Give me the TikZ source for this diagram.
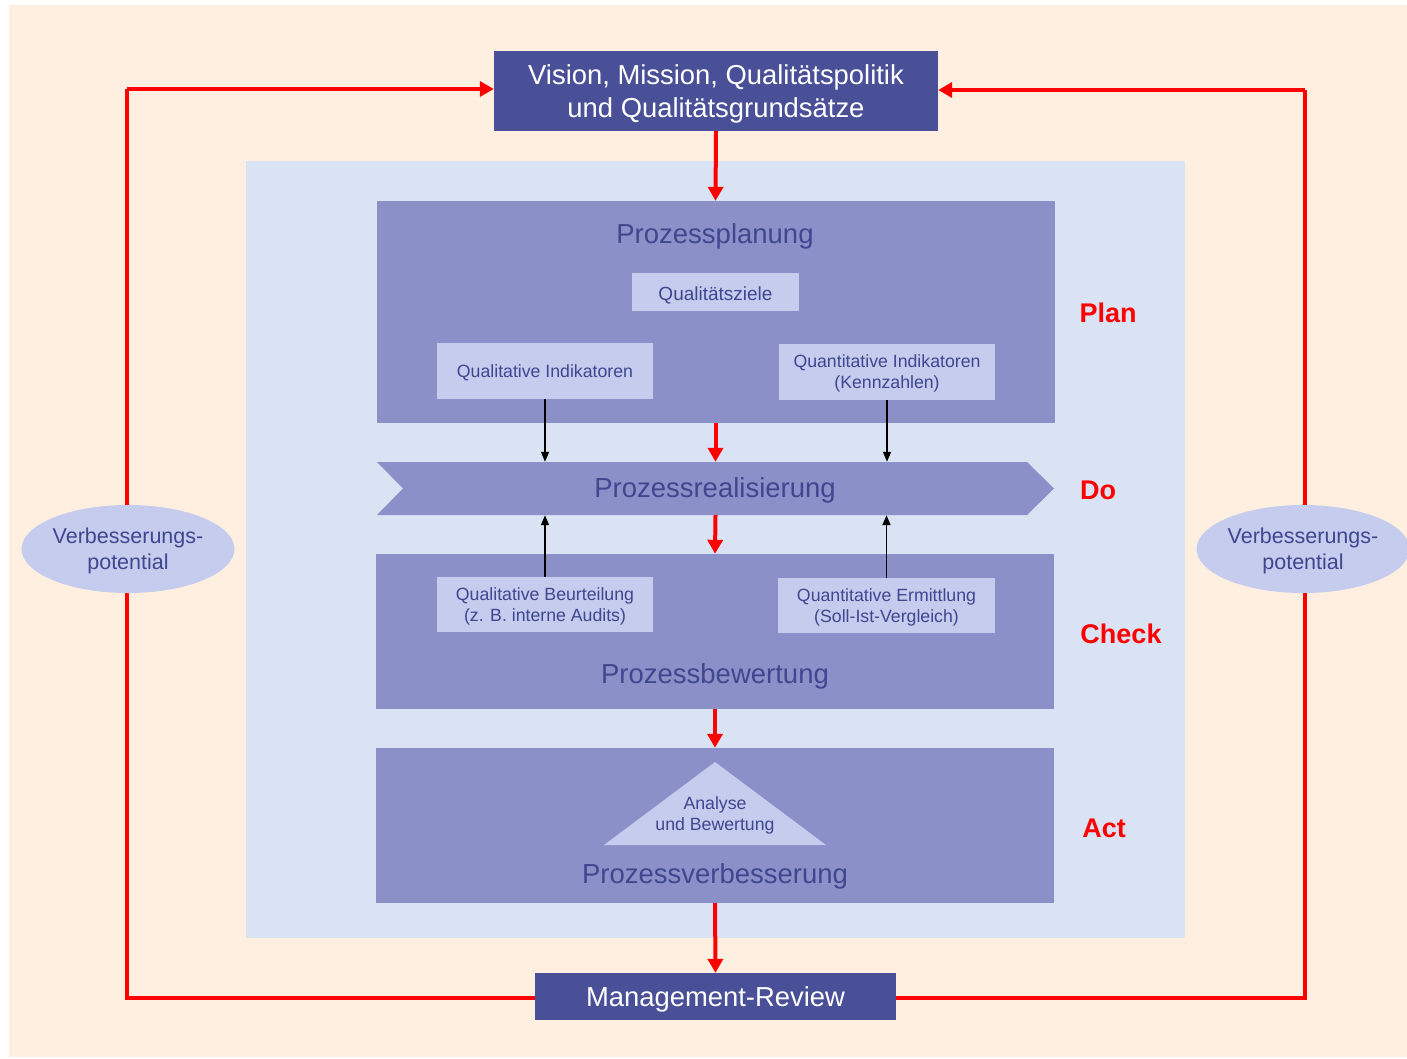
\documentclass[tikz,border=0pt]{standalone}
\usepackage{fontspec}
\setmainfont{Liberation Sans}
\usetikzlibrary{arrows.meta,shapes.geometric}
\definecolor{peach}{HTML}{FEEFE0}
\definecolor{paleblue}{HTML}{DAE3F3}
\definecolor{midblue}{HTML}{8B91C8}
\definecolor{lightblue}{HTML}{C5CCEE}
\definecolor{darkblue}{HTML}{4A5098}
\definecolor{textblue}{HTML}{40468F}
\tikzset{>=Triangle,
  phase/.style={fill=midblue, inner sep=0pt, minimum width=678pt},
  textdrop/.style={execute at begin node={\rule{0pt}{#1}}},
  subbox/.style={fill=lightblue, text=textblue, inner sep=0pt, minimum width=216pt, minimum height=56pt, align=center, font=\fontsize{17.7}{21}\selectfont},
  phasetitle/.style={anchor=base, text=textblue, font=\fontsize{27.5}{32}\selectfont},
  endbox/.style={fill=darkblue, text=white, inner sep=0pt, align=center, font=\fontsize{27.4}{33}\selectfont},
  pdca/.style={anchor=base, text=red, font=\bfseries\fontsize{27}{32}\selectfont},
  potential/.style={ellipse, fill=lightblue, text=textblue, inner sep=0pt, minimum width=210pt, minimum height=88pt, align=center, font=\fontsize{21.5}{26}\selectfont, text depth=-8.4pt},
  redarrow/.style={red, line width=4pt, -{Triangle[length=14pt,width=15pt]}},
  blackarrow/.style={black, line width=1.5pt, -{Triangle[length=10pt,width=8pt]}}
}

\begin{document}
\begin{tikzpicture}[x=1pt,y=-1pt]
        \useasboundingbox (0,0) rectangle (1407,1058);
        \fill[peach] (9,5) rectangle (1407,1057);
        \fill[paleblue] (246,161) rectangle (1185,938);

        % Top and bottom boxes
        \node[endbox, minimum width=444pt, minimum height=80pt, text depth=-4.2pt] (vision) at (716,91) {Vision, Mission, Qualitätspolitik\\und Qualitätsgrundsätze};
        \node[endbox, minimum width=361pt, minimum height=47pt, textdrop=26pt] (review) at (715.5,996.5) {Management-Review};

        % Plan
        \node[phase, minimum height=222pt] (planung) at (715.5,312) {};
        \node[phasetitle] (plantitle) at (715,243) {Prozessplanung};
        \node[subbox, minimum width=167pt, minimum height=38pt, font=\fontsize{19}{22}\selectfont, textdrop=20pt] (ziele) at (715.5,292) {Qualitätsziele};
        \node[subbox, textdrop=17pt] (qualind) at (545,371) {Qualitative Indikatoren};
        \node[subbox, text depth=-2.3pt] (quantind) at (887,372) {Quantitative Indikatoren\\(Kennzahlen)};

        % Do
        \fill[midblue] (377,462) -- (1027,462) -- (1054,488.5) -- (1027,515) -- (377,515) -- (403,488.5) -- cycle;
        \node[inner sep=0pt, minimum width=677pt, minimum height=53pt] (real) at (715.5,488.5) {};
        \node[phasetitle] (realtitle) at (715,497) {Prozessrealisierung};

        % Check
        \node[phase, minimum height=155pt] (bewertung) at (715,631.5) {};
        \node[phasetitle] (bewtitle) at (715,683) {Prozessbewertung};
        \node[subbox, minimum height=55pt, text depth=-4.2pt] (beurteilung) at (545,604.5) {Qualitative Beurteilung\\(z. B. interne Audits)};
        \node[subbox, minimum width=217pt, minimum height=55pt, text depth=-4.2pt] (ermittlung) at (886.5,605.5) {Quantitative Ermittlung\\(Soll-Ist-Vergleich)};

        % Act
        \node[phase, minimum height=155pt] (verbesserung) at (715,825.5) {};
        \fill[lightblue] (604,845) -- (715,762) -- (826,845) -- cycle;
        \node[text=textblue, align=center, font=\fontsize{17.7}{21}\selectfont] (analyse) at (715,815.5) {Analyse\\und Bewertung};
        \node[phasetitle] (verbtitle) at (715,883) {Prozessverbesserung};

        % PDCA labels
        \node[pdca] (plan) at (1108,322) {Plan};
        \node[pdca] (do) at (1098,499) {Do};
        \node[pdca] (check) at (1121,643) {Check};
        \node[pdca] (act) at (1104,837) {Act};

        % Main flow
        \draw[redarrow] (vision.south) -- (planung.north);
        \draw[redarrow] (planung.south) -- (real.north);
        \draw[redarrow] (real.south) -- (bewertung.north);
        \draw[redarrow] (bewertung.south) -- (verbesserung.north);
        \draw[redarrow] (verbesserung.south) -- (review.north);

        \draw[blackarrow] (qualind.south) -- (qualind.south |- real.north);
        \draw[blackarrow] (quantind.south) -- (quantind.south |- real.north);
        \draw[blackarrow] (beurteilung.north) -- (beurteilung.north |- real.south);
        \draw[blackarrow] (ermittlung.north) -- (ermittlung.north |- real.south);

        % Feedback loops
        \coordinate (leftbottom) at (127,998);
        \coordinate (lefttop) at (127,89);
        \coordinate (rightbottom) at (1305,998);
        \coordinate (righttop) at (1305,90);
        \draw[red, line width=4pt] (review.west |- leftbottom) -- (leftbottom) -- (lefttop);
        \draw[redarrow] (lefttop) -- (lefttop -| vision.west);
        \draw[red, line width=4pt] (review.east |- rightbottom) -- (rightbottom) -- (righttop);
        \draw[redarrow] (righttop) -- (righttop -| vision.east);

        \node[potential] (potleft) at (128,549) {Verbesserungs-\\potential};
        \node[potential] (potright) at (1303,549) {Verbesserungs-\\potential};
\end{tikzpicture}
\end{document}
